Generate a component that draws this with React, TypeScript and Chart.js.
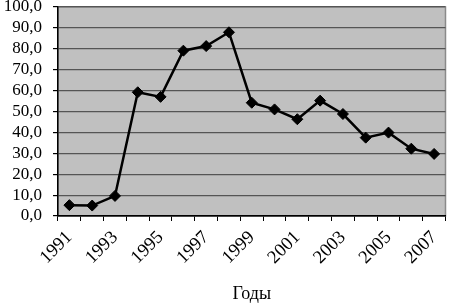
import React, { useEffect, useRef } from "react";
import { Chart, registerables } from "chart.js";

Chart.register(...registerables);

const years = [
  "1991", "1992", "1993", "1994", "1995", "1996", "1997", "1998", "1999",
  "2000", "2001", "2002", "2003", "2004", "2005", "2006", "2007",
];
const values = [
  5.2, 5.0, 9.6, 59.2, 57.0, 79.1, 81.3, 87.9, 54.2,
  51.0, 46.3, 55.2, 48.8, 37.5, 39.9, 32.2, 29.7,
];
const axisTitle = "Годы";

const plotBg = {
  id: "plotBg",
  beforeDraw(chart: any) {
    const { ctx, chartArea } = chart;
    if (!chartArea) return;
    ctx.save();
    ctx.fillStyle = "#c0c0c0";
    ctx.fillRect(chartArea.left, chartArea.top, chartArea.right - chartArea.left, chartArea.bottom - chartArea.top);
    ctx.strokeStyle = "#8a8a8a";
    ctx.lineWidth = 1.5;
    ctx.strokeRect(chartArea.left, chartArea.top, chartArea.right - chartArea.left, chartArea.bottom - chartArea.top);
    ctx.restore();
  },
};

export default function App() {
  const ref = useRef<HTMLCanvasElement>(null);
  useEffect(() => {
    if (!ref.current) return;
    const family = "'Liberation Serif', 'Times New Roman', serif";
    const chart = new Chart(ref.current, {
      type: "line",
      data: {
        labels: years,
        datasets: [
          {
            data: values,
            borderColor: "#000",
            backgroundColor: "#000",
            borderWidth: 2.5,
            pointStyle: "rectRot",
            pointRadius: 5.5,
            pointBackgroundColor: "#000",
            pointBorderColor: "#000",
            pointBorderWidth: 1,
            tension: 0,
          },
        ],
      },
      options: {
        animation: false,
        responsive: true,
        maintainAspectRatio: false,
        layout: { padding: { top: 7, right: 3, left: 0, bottom: 0 } },
        plugins: { legend: { display: false }, tooltip: { enabled: false } },
        scales: {
          x: {
            type: "category",
            offset: true,
            grid: {
              offset: true,
              drawOnChartArea: false,
              drawTicks: true,
              tickLength: 5,
              color: "#000",
            },
            border: { display: true, color: "#000", width: 1.5 },
            ticks: {
              autoSkip: false,
              maxRotation: 45,
              minRotation: 45,
              padding: 7,
              color: "#000",
              font: { family, size: 18.5, lineHeight: 1 },
              callback: (_v: any, i: number) => (i % 2 === 0 ? years[i] : ""),
            },
            title: {
              display: true,
              text: axisTitle,
              color: "#000",
              font: { family, size: 18 },
              padding: { top: 0, bottom: 1 },
            },
            afterFit: (s: any) => {
              s.height = 90;
              s.paddingLeft = 0;
              s.paddingRight = 0;
            },
          },
          y: {
            min: 0,
            max: 100,
            grid: {
              color: "#555",
              lineWidth: 1.2,
              drawTicks: true,
              tickLength: 5,
              tickColor: "#000",
            },
            border: { display: true, color: "#000", width: 1.5 },
            ticks: {
              stepSize: 10,
              padding: 11,
              color: "#000",
              font: { family, size: 17, lineHeight: 1 },
              callback: (v: any) => Number(v).toFixed(1).replace(".", ","),
            },
            afterFit: (s: any) => {
              s.width = 58;
              s.paddingTop = 0;
              s.paddingBottom = 0;
            },
          },
        },
      },
      plugins: [plotBg],
    });
    return () => chart.destroy();
  }, []);
  return (
    <div style={{ position: "absolute", left: 0, top: 0, width: 452, height: 306, background: "#fff" }}>
      <canvas ref={ref} />
    </div>
  );
}
